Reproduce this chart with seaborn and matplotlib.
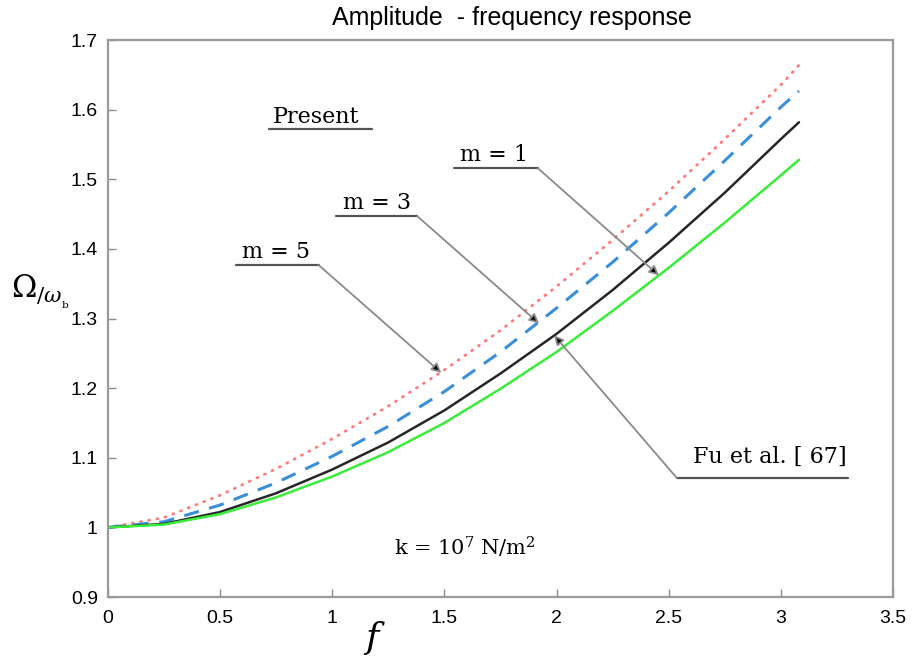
import numpy as np
import pandas as pd
import matplotlib
matplotlib.use("Agg")
import matplotlib.pyplot as plt
import seaborn as sns

# =========================
# Data
# =========================
f_vals = [0.0, 0.25, 0.5, 0.75, 1.0, 1.25, 1.5, 1.75, 2.0, 2.25, 2.5, 2.75, 3.0, 3.08]

m5 = [1.000, 1.014, 1.046, 1.084, 1.127, 1.174, 1.226, 1.283, 1.346, 1.413, 1.483, 1.558, 1.636, 1.664]
m3 = [1.000, 1.008, 1.032, 1.064, 1.102, 1.145, 1.195, 1.252, 1.315, 1.381, 1.452, 1.527, 1.604, 1.627]
m1 = [1.000, 1.005, 1.022, 1.049, 1.083, 1.122, 1.168, 1.221, 1.278, 1.341, 1.409, 1.481, 1.558, 1.582]
fu = [1.000, 1.004, 1.019, 1.043, 1.073, 1.108, 1.150, 1.199, 1.252, 1.311, 1.373, 1.438, 1.506, 1.528]

x_ticks = [0, 0.5, 1, 1.5, 2, 2.5, 3, 3.5]
x_tick_labels = ["0", "0.5", "1", "1.5", "2", "2.5", "3", "3.5"]
y_ticks = [0.9, 1.0, 1.1, 1.2, 1.3, 1.4, 1.5, 1.6, 1.7]
y_tick_labels = ["0.9", "1", "1.1", "1.2", "1.3", "1.4", "1.5", "1.6", "1.7"]

df = pd.DataFrame({"f": f_vals, "m5": m5, "m3": m3, "m1": m1, "fu": fu})

# =========================
# Style
# =========================
sns.set_style("white")
plt.rcParams["mathtext.fontset"] = "dejavuserif"
plt.rcParams["text.color"] = "black"

fig = plt.figure(figsize=(9.19, 6.63), dpi=100)
ax = fig.add_axes([0.117, 0.0995, 0.855, 0.840])

sns.lineplot(data=df, x="f", y="m5", ax=ax, color="#ff7a7a",
             linewidth=2.0, linestyle=(0, (0.4, 2.6)), dash_capstyle="round")
sns.lineplot(data=df, x="f", y="m3", ax=ax, color="#3a90d8",
             linewidth=2.2, linestyle=(0, (5, 3.5)))
sns.lineplot(data=df, x="f", y="m1", ax=ax, color="#262626", linewidth=1.8)
sns.lineplot(data=df, x="f", y="fu", ax=ax, color="#39ec39", linewidth=1.8)

ax.set_xlim(0, 3.5)
ax.set_ylim(0.9, 1.7)
ax.set_xticks(x_ticks)
ax.set_xticklabels(x_tick_labels)
ax.set_yticks(y_ticks)
ax.set_yticklabels(y_tick_labels)
ax.set_xlabel("")
ax.set_ylabel("")

for sp in ax.spines.values():
    sp.set_color("#9a9a9a")
    sp.set_linewidth(1.6)

ax.tick_params(axis="both", direction="in", length=6, width=1,
               color="#8c8c8c", labelsize=14, labelcolor="black",
               bottom=True, left=True, top=False, right=False)
ax.tick_params(axis="x", pad=9)
ax.tick_params(axis="y", pad=7)
for lab in ax.get_xticklabels() + ax.get_yticklabels():
    lab.set_family(["Liberation Sans", "DejaVu Sans"])

# =========================
# Labels and title
# =========================
fig.text(0.557, 0.973, "Amplitude  - frequency response",
         ha="center", va="center", fontsize=18,
         family=["Liberation Sans Narrow", "Liberation Sans", "DejaVu Sans"])

fig.text(0.012, 1 - 292 / 663, r"$\Omega_{/\omega_{_{\rm b}}}$",
         ha="left", va="center", fontsize=22)

fig.text(0.408, 0.038, r"$f$", ha="center", va="center", fontsize=26)

# =========================
# Annotations
# =========================
serif = ["DejaVu Serif"]
ann_fs = 16
line_col = "#8a8a8a"
under_col = "#555555"

# Present
ax.text(0.93, 1.589, "Present", ha="center", va="center",
        fontsize=ann_fs, family=serif)
ax.plot([0.718, 1.180], [1.572, 1.572], color=under_col, lw=1.6)

# label text, underline (x0, x1, y), arrow target
labels = [
    ("m = 1", 1.72, 1.535, 1.544, 1.917, 1.516, 1.917, (2.456, 1.362)),
    ("m = 3", 1.20, 1.466, 1.016, 1.380, 1.447, 1.380, (1.922, 1.293)),
    ("m = 5", 0.75, 1.396, 0.571, 0.940, 1.377, 0.940, (1.487, 1.222)),
]
for txt, tx, ty, ux0, ux1, uy, sx, tip in labels:
    ax.text(tx, ty, txt, ha="center", va="center", fontsize=ann_fs, family=serif)
    ax.plot([ux0, ux1], [uy, uy], color=under_col, lw=1.6)
    ax.annotate("", xy=tip, xytext=(sx, uy),
                arrowprops=dict(arrowstyle="-|>", color=line_col, lw=1.3,
                                mutation_scale=14, shrinkA=0, shrinkB=0,
                                fc="black", ec=line_col))

# Fu et al.
ax.text(2.95, 1.101, "Fu et al. [ 67]", ha="center", va="center",
        fontsize=ann_fs, family=serif)
ax.plot([2.536, 3.300], [1.071, 1.071], color=under_col, lw=1.6)
ax.annotate("", xy=(1.989, 1.276), xytext=(2.536, 1.071),
            arrowprops=dict(arrowstyle="-|>", color=line_col, lw=1.3,
                            mutation_scale=14, shrinkA=0, shrinkB=0,
                            fc="black", ec=line_col))

# k value
ax.text(1.594, 0.972, r"k = 10$^{7}$ N/m$^{2}$", ha="center", va="center",
        fontsize=15, family=serif)

plt.savefig("out.png", dpi=100)
